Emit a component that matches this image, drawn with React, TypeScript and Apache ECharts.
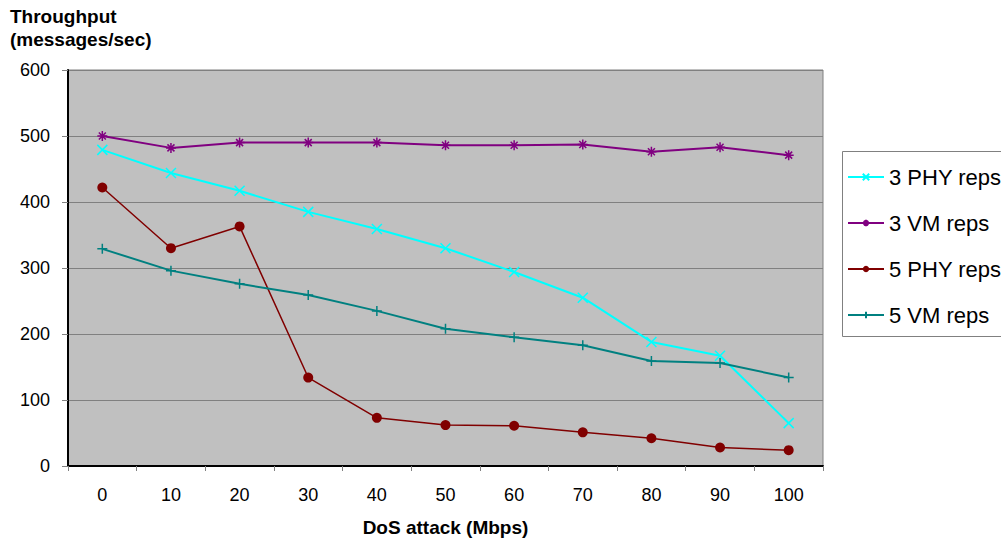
import React, { useEffect, useRef } from "react";
import * as echarts from "echarts";

const categories = ["0", "10", "20", "30", "40", "50", "60", "70", "80", "90", "100"];
const phy3 = [479, 444, 417, 385, 359, 330, 294, 255, 188, 167, 65];
const vm3 = [500, 482, 490, 490, 490, 486, 486, 487, 476, 483, 471];
const phy5 = [422, 330, 363, 134, 73, 62, 61, 51, 42, 28, 24];
const vm5 = [329, 296, 276, 259, 235, 208, 195, 183, 159, 156, 134];
const seriesNames = ["3 PHY reps", "3 VM reps", "5 PHY reps", "5 VM reps"];

const FONT = "'Liberation Sans', Arial, sans-serif";

const xSym = "path://M0,0L10,10M10,0L0,10";
const starSym = "path://M5,0L5,10M0,5L10,5M1.5,1.5L8.5,8.5M8.5,1.5L1.5,8.5";
const plusSym = "path://M5,0L5,10M0,5L10,5";

export default function App() {
  const ref = useRef<HTMLDivElement>(null);
  useEffect(() => {
    const chart = echarts.init(ref.current!, null, { renderer: "svg" });
    const mk = (name: string, data: number[], color: string, symbol: string, size: number, width: number, stroke: boolean) => ({
      name,
      type: "line",
      data,
      symbol,
      symbolSize: size,
      showAllSymbol: true,
      lineStyle: { color, width },
      itemStyle: stroke
        ? { color: "transparent", borderColor: color, borderWidth: 1.5 }
        : { color, borderColor: color, borderWidth: 0 },
      emphasis: { disabled: true },
    });
    chart.setOption({
      animation: false,
      textStyle: { fontFamily: FONT },
      grid: { left: 68, right: 178, top: 70, bottom: 76, show: true, backgroundColor: "#C0C0C0", borderColor: "#808080", borderWidth: 1 },
      graphic: [
        {
          type: "text",
          left: 10,
          top: 5,
          style: { text: "Throughput\n(messages/sec)", font: `bold 19px ${FONT}`, fill: "#000", lineHeight: 23 },
        },
        {
          type: "rect",
          shape: { x: 842.5, y: 151.5, width: 170, height: 185 },
          style: { fill: "#fff", stroke: "#808080", lineWidth: 1 },
          z: -1,
        },
      ],
      legend: {
        orient: "vertical",
        left: 842,
        top: 161,
        itemGap: 24,
        itemWidth: 36,
        itemHeight: 8,
        data: seriesNames,
        textStyle: { fontSize: 22, lineHeight: 22, color: "#000", fontFamily: FONT },
        selectedMode: false,
      },
      xAxis: {
        type: "category",
        data: categories,
        boundaryGap: true,
        name: "DoS attack (Mbps)",
        nameLocation: "middle",
        nameGap: 52,
        nameTextStyle: { fontSize: 19, fontWeight: "bold", color: "#000" },
        axisLine: { lineStyle: { color: "#000", width: 2 } },
        axisTick: { show: true, length: 5, lineStyle: { color: "#808080" } },
        axisLabel: { fontSize: 18, color: "#000", margin: 20 },
        splitLine: { show: false },
      },
      yAxis: {
        type: "value",
        min: 0,
        max: 600,
        interval: 100,
        axisLine: { show: true, lineStyle: { color: "#000", width: 2 } },
        axisTick: { show: true, length: 6, lineStyle: { color: "#808080" } },
        axisLabel: { fontSize: 18, color: "#000", margin: 18 },
        splitLine: { lineStyle: { color: "#808080", width: 1 } },
      },
      series: [
        mk(seriesNames[0], phy3, "#00FFFF", xSym, 10, 2, true),
        mk(seriesNames[1], vm3, "#800080", starSym, 10, 2, true),
        mk(seriesNames[2], phy5, "#800000", "circle", 10, 1.5, false),
        mk(seriesNames[3], vm5, "#008080", plusSym, 10, 2, true),
      ],
    });
    return () => chart.dispose();
  }, []);
  return <div ref={ref} style={{ width: 1001, height: 542, position: "absolute", left: 0, top: 0 }} />;
}
